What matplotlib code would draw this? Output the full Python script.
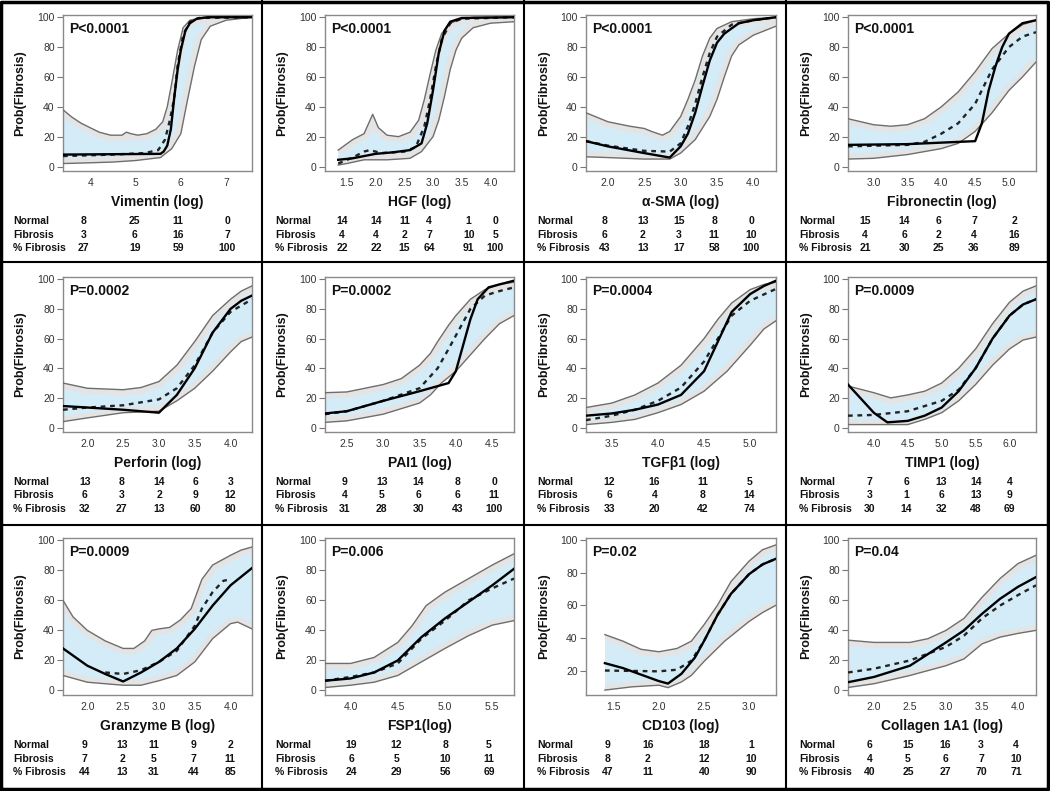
import matplotlib
matplotlib.use("Agg")
import matplotlib.pyplot as plt
from matplotlib.patches import Polygon
from matplotlib.lines import Line2D
import matplotlib.transforms as mtransforms

plt.rcParams["font.family"] = ["Liberation Sans", "DejaVu Sans"]

# ---- data: (x log value, Prob(Fibrosis) %) ----
vim_hi = [(3.4, 38), (3.6, 33), (3.8, 29), (4.0, 26), (4.2, 23), (4.45, 21), (4.7, 21), (4.8, 23), (4.9, 22),
          (5.05, 21), (5.25, 22), (5.45, 25), (5.6, 30), (5.7, 40), (5.8, 56), (5.93, 78), (6.05, 93),
          (6.2, 98), (6.5, 100), (7.57, 100)]
vim_lo = [(3.4, 2), (4.0, 2.5), (4.5, 3), (5.0, 4), (5.55, 6), (5.8, 12), (6.0, 22), (6.15, 45), (6.3, 67),
          (6.45, 85), (6.65, 94), (7.0, 98), (7.57, 100)]
vim_fit = [(3.4, 8), (5.55, 8.5), (5.62, 10), (5.7, 14), (5.78, 25), (5.85, 45), (5.93, 65), (6.0, 78),
           (6.1, 91), (6.2, 96), (6.35, 99), (6.6, 100), (7.57, 100)]
vim_obs = [(3.4, 7), (4.5, 8), (5.2, 9), (5.5, 11), (5.65, 18), (5.75, 30), (5.85, 45), (5.93, 68),
           (6.05, 88), (6.2, 97), (6.4, 99.5), (7.57, 100)]

hgf_hi = [(1.35, 11), (1.6, 18), (1.8, 22), (1.95, 35), (2.05, 26), (2.2, 21), (2.4, 20), (2.6, 23), (2.75, 31),
          (2.85, 45), (2.95, 62), (3.05, 78), (3.15, 89), (3.3, 96), (3.5, 99), (3.7, 100), (4.41, 100)]
hgf_lo = [(1.35, 1), (1.5, 2), (1.8, 4.5), (2.2, 4.5), (2.6, 5.5), (2.8, 10), (3.0, 20), (3.1, 31), (3.2, 47),
          (3.3, 65), (3.4, 78), (3.5, 86), (3.7, 93), (4.0, 96), (4.41, 97)]
hgf_fit = [(1.35, 4.5), (1.6, 5.5), (2.0, 8.5), (2.3, 9.5), (2.6, 11), (2.8, 15.5), (2.9, 29), (3.0, 51),
           (3.1, 76), (3.2, 91), (3.3, 97), (3.5, 99.5), (4.41, 100)]
hgf_obs = [(1.35, 2), (1.6, 6), (1.8, 10), (1.9, 11), (2.1, 9), (2.5, 10), (2.7, 13), (2.85, 27), (2.95, 45),
           (3.05, 67), (3.15, 85), (3.3, 96), (3.5, 99), (4.41, 100)]

sma_hi = [(1.7, 36), (2.0, 30), (2.3, 27), (2.5, 25.5), (2.6, 23.5), (2.75, 21), (2.85, 23.5), (3.0, 33.5),
          (3.1, 45), (3.2, 58), (3.3, 74), (3.4, 86), (3.5, 92.5), (3.7, 97), (4.0, 99), (4.31, 100)]
sma_lo = [(1.7, 6.5), (2.0, 6), (2.5, 5), (2.85, 5), (3.0, 9), (3.2, 18), (3.4, 33.5), (3.5, 45), (3.6, 60),
          (3.7, 74), (3.8, 81.5), (4.0, 88), (4.31, 94)]
sma_fit = [(1.7, 17), (2.0, 13.5), (2.5, 9), (2.85, 6), (3.0, 13.5), (3.1, 22), (3.2, 36), (3.3, 54),
           (3.4, 71), (3.5, 83), (3.6, 89), (3.8, 96), (4.0, 98), (4.31, 100)]
sma_obs = [(1.7, 17), (2.0, 14), (2.5, 10.5), (2.85, 10), (3.0, 15.5), (3.1, 27), (3.2, 42), (3.3, 60),
           (3.4, 76), (3.5, 87), (3.7, 95), (4.0, 98), (4.31, 100)]

fn_hi = [(2.62, 32), (3.0, 28), (3.25, 27), (3.5, 28), (3.75, 32), (4.0, 40), (4.25, 50), (4.5, 63.5),
         (4.75, 79), (5.0, 89), (5.2, 95), (5.4, 98)]
fn_lo = [(2.62, 5), (3.0, 5.5), (3.5, 8), (4.0, 12), (4.25, 15.5), (4.5, 23.5), (4.75, 36), (5.0, 51),
         (5.2, 60), (5.4, 70)]
fn_fit = [(2.62, 14.5), (3.5, 15), (4.5, 17), (4.6, 29), (4.7, 51), (4.8, 67), (4.9, 80), (5.0, 89),
          (5.2, 96), (5.4, 98)]
fn_obs = [(2.62, 13.5), (3.5, 14.5), (3.75, 16.5), (4.0, 22), (4.25, 29), (4.5, 42), (4.75, 65), (5.0, 80),
          (5.2, 87), (5.4, 90)]

prf_hi = [(1.66, 30), (2.0, 26.5), (2.5, 25.5), (2.75, 27), (3.0, 31), (3.25, 42), (3.5, 58), (3.75, 75.5),
          (4.0, 86.5), (4.15, 92), (4.3, 95.5)]
prf_lo = [(1.66, 4), (2.0, 6.5), (2.5, 10), (3.0, 11), (3.25, 18), (3.5, 26.5), (3.75, 38), (4.0, 51),
          (4.15, 58), (4.3, 61)]
prf_fit = [(1.66, 14.5), (2.0, 13.5), (2.5, 12), (3.0, 10), (3.25, 22), (3.5, 40), (3.75, 64), (4.0, 80),
           (4.15, 85.5), (4.3, 89)]
prf_obs = [(1.66, 12), (2.0, 13.5), (2.5, 15), (3.0, 19), (3.25, 26.5), (3.5, 42), (3.75, 64), (4.0, 78),
           (4.3, 86.5)]

pai_hi = [(2.2, 23.5), (2.5, 24), (3.0, 29), (3.25, 33), (3.5, 42), (3.65, 50), (3.75, 58), (3.9, 69),
          (4.0, 75.5), (4.2, 86.5), (4.4, 93), (4.6, 96.5), (4.8, 98)]
pai_lo = [(2.2, 3.5), (2.5, 4.5), (3.0, 9), (3.5, 16.5), (3.65, 22), (3.8, 30), (4.0, 38), (4.2, 49),
          (4.4, 60), (4.6, 70), (4.8, 75.5)]
pai_fit = [(2.2, 9.5), (2.5, 11), (3.0, 18), (3.5, 24.5), (3.9, 30), (4.0, 38), (4.1, 55.5), (4.2, 73),
           (4.3, 86.5), (4.45, 94.5), (4.6, 96.5), (4.8, 99)]
pai_obs = [(2.2, 9), (2.5, 11), (3.0, 18), (3.5, 26.5), (3.75, 40), (3.9, 53), (4.0, 62), (4.2, 80),
           (4.4, 89), (4.6, 92), (4.8, 94.5)]

tgf_hi = [(3.22, 13.5), (3.5, 16.5), (3.75, 22), (4.0, 30), (4.25, 42), (4.5, 60), (4.65, 73), (4.8, 84),
          (5.0, 93), (5.15, 96.5), (5.28, 98)]
tgf_lo = [(3.22, 2), (3.5, 3.5), (3.75, 5.5), (4.0, 10), (4.25, 15.5), (4.5, 24.5), (4.75, 38), (5.0, 55.5),
          (5.15, 66.5), (5.28, 72)]
tgf_fit = [(3.22, 8), (3.5, 9.5), (3.75, 12), (4.0, 15.5), (4.25, 22), (4.5, 38), (4.65, 58), (4.8, 78),
           (5.0, 90), (5.15, 95.5), (5.28, 99)]
tgf_obs = [(3.22, 5), (3.5, 8), (3.75, 12), (4.0, 18), (4.25, 27), (4.5, 44.5), (4.65, 60), (4.8, 75.5),
           (5.0, 85.5), (5.28, 93.5)]

timp_hi = [(3.62, 28), (4.0, 23.5), (4.25, 20), (4.5, 22), (4.75, 24.5), (5.0, 30), (5.25, 40), (5.5, 53),
           (5.75, 70), (6.0, 84.5), (6.2, 92), (6.39, 95.5)]
timp_lo = [(3.62, 2), (4.5, 2), (4.75, 5.5), (5.0, 10), (5.25, 18), (5.5, 29), (5.75, 42), (6.0, 53),
           (6.2, 59), (6.39, 61)]
timp_fit = [(3.62, 29), (3.8, 20), (4.0, 10), (4.2, 3.5), (4.5, 4.5), (4.75, 8), (5.0, 13.5), (5.25, 24.5),
            (5.5, 40), (5.75, 60), (6.0, 75.5), (6.2, 83), (6.39, 86.5)]
timp_obs = [(3.62, 8), (4.0, 8.5), (4.5, 11), (5.0, 18), (5.25, 25.5), (5.5, 40), (5.75, 60), (6.0, 75.5),
            (6.2, 83), (6.39, 86.5)]

gzb_hi = [(1.66, 60), (1.8, 49), (2.0, 40), (2.25, 33), (2.5, 28), (2.65, 28), (2.8, 33), (2.9, 40),
          (3.0, 41), (3.15, 42), (3.3, 47), (3.45, 54.5), (3.6, 74), (3.75, 83.5), (4.0, 90), (4.15, 93.5),
          (4.3, 95.5)]
gzb_lo = [(1.66, 10), (2.0, 5.5), (2.5, 3.5), (2.75, 3.5), (3.0, 6.5), (3.25, 10), (3.5, 19), (3.75, 34.5),
          (4.0, 44.5), (4.1, 45.5), (4.3, 41)]
gzb_fit = [(1.66, 28), (2.0, 16.5), (2.25, 11), (2.5, 6), (2.75, 12), (3.0, 19), (3.25, 28), (3.5, 41),
           (3.75, 56.5), (4.0, 70), (4.3, 81.5)]
gzb_obs = [(2.25, 12), (2.5, 11), (2.75, 13.5), (3.0, 19), (3.25, 26.5), (3.5, 43), (3.6, 54.5),
           (3.75, 65.5), (3.9, 73), (4.0, 74)]

fsp_hi = [(3.73, 18), (4.0, 18), (4.25, 22), (4.5, 32), (4.65, 43), (4.8, 56.5), (5.0, 65.5), (5.25, 74.5),
          (5.5, 83.5), (5.73, 91)]
fsp_lo = [(3.73, 2), (4.0, 3.5), (4.25, 5.5), (4.5, 10), (4.75, 19), (5.0, 28), (5.25, 36.5), (5.5, 43.5),
          (5.73, 46.5)]
fsp_fit = [(3.73, 6.5), (4.0, 8), (4.25, 12), (4.5, 20), (4.75, 35.5), (5.0, 48), (5.25, 59), (5.5, 70),
           (5.73, 81)]
fsp_obs = [(3.73, 6.5), (4.0, 9), (4.25, 12), (4.5, 18), (4.75, 34.5), (5.0, 46.5), (5.25, 60), (5.5, 68),
           (5.73, 74.5)]

cd_hi = [(1.4, 42), (1.6, 38), (1.8, 33), (2.0, 31.5), (2.2, 33.5), (2.36, 38), (2.5, 48), (2.65, 60),
         (2.8, 74.5), (3.0, 87), (3.15, 94), (3.3, 97)]
cd_lo = [(1.4, 8), (1.7, 10), (2.0, 11), (2.1, 9.5), (2.25, 13), (2.36, 17), (2.5, 25.5), (2.73, 38),
         (3.0, 50), (3.15, 55.5), (3.3, 60)]
cd_fit = [(1.4, 24.5), (1.6, 21.5), (1.8, 17.5), (2.0, 13.5), (2.1, 12), (2.25, 18), (2.4, 28), (2.5, 38),
          (2.65, 54), (2.8, 67), (3.0, 79), (3.15, 85), (3.3, 88.5)]
cd_obs = [(1.4, 20), (2.0, 19.5), (2.2, 20.5), (2.36, 26), (2.5, 38), (2.65, 54), (2.8, 67), (3.0, 79),
          (3.15, 85), (3.3, 88.5)]

col_hi = [(1.64, 33.5), (2.0, 32), (2.5, 32), (2.75, 34.5), (3.0, 40), (3.25, 48), (3.5, 62), (3.75, 74.5),
          (4.0, 84.5), (4.25, 90)]
col_lo = [(1.64, 2), (2.0, 4.5), (2.5, 10), (3.0, 16.5), (3.25, 21), (3.5, 31), (3.75, 35.5), (4.0, 38),
          (4.25, 40)]
col_fit = [(1.64, 5.5), (2.0, 9), (2.5, 16.5), (3.0, 32), (3.25, 40), (3.5, 51), (3.75, 61), (4.0, 69),
           (4.25, 75.5)]
col_obs = [(1.64, 12), (2.0, 14.5), (2.5, 20), (3.0, 29), (3.25, 36.5), (3.5, 48), (3.75, 56.5), (4.0, 63.5),
           (4.25, 70)]

markers = ["Vimentin (log)", "HGF (log)", "\u03b1-SMA (log)", "Fibronectin (log)",
           "Perforin (log)", "PAI1 (log)", "TGF\u03b21 (log)", "TIMP1 (log)",
           "Granzyme B (log)", "FSP1(log)", "CD103 (log)", "Collagen 1A1 (log)"]
p_values = ["P<0.0001", "P<0.0001", "P<0.0001", "P<0.0001",
            "P=0.0002", "P=0.0002", "P=0.0004", "P=0.0009",
            "P=0.0009", "P=0.006", "P=0.02", "P=0.04"]
x_ticks = [[4, 5, 6, 7], [1.5, 2.0, 2.5, 3.0, 3.5, 4.0], [2.0, 2.5, 3.0, 3.5, 4.0], [3.0, 3.5, 4.0, 4.5, 5.0],
           [2.0, 2.5, 3.0, 3.5, 4.0], [2.5, 3.0, 3.5, 4.0, 4.5], [3.5, 4.0, 4.5, 5.0], [4.0, 4.5, 5.0, 5.5, 6.0],
           [2.0, 2.5, 3.0, 3.5, 4.0], [4.0, 4.5, 5.0, 5.5], [1.5, 2.0, 2.5, 3.0], [2.0, 2.5, 3.0, 3.5, 4.0]]

normal = [[8, 25, 11, 0], [14, 14, 11, 4, 1, 0], [8, 13, 15, 8, 0], [15, 14, 6, 7, 2],
          [13, 8, 14, 6, 3], [9, 13, 14, 8, 0], [12, 16, 11, 5], [7, 6, 13, 14, 4],
          [9, 13, 11, 9, 2], [19, 12, 8, 5], [9, 16, 18, 1], [6, 15, 16, 3, 4]]
fibrosis = [[3, 6, 16, 7], [4, 4, 2, 7, 10, 5], [6, 2, 3, 11, 10], [4, 6, 2, 4, 16],
            [6, 3, 2, 9, 12], [4, 5, 6, 6, 11], [6, 4, 8, 14], [3, 1, 6, 13, 9],
            [7, 2, 5, 7, 11], [6, 5, 10, 11], [8, 2, 12, 10], [4, 5, 6, 7, 10]]
pct_fibrosis = [[27, 19, 59, 100], [22, 22, 15, 64, 91, 100], [43, 13, 17, 58, 100], [21, 30, 25, 36, 89],
                [32, 27, 13, 60, 80], [31, 28, 30, 43, 100], [33, 20, 42, 74], [30, 14, 32, 48, 69],
                [44, 13, 31, 44, 85], [24, 29, 56, 69], [47, 11, 40, 90], [40, 25, 27, 70, 71]]

curves = [(vim_hi, vim_lo, vim_fit, vim_obs), (hgf_hi, hgf_lo, hgf_fit, hgf_obs),
          (sma_hi, sma_lo, sma_fit, sma_obs), (fn_hi, fn_lo, fn_fit, fn_obs),
          (prf_hi, prf_lo, prf_fit, prf_obs), (pai_hi, pai_lo, pai_fit, pai_obs),
          (tgf_hi, tgf_lo, tgf_fit, tgf_obs), (timp_hi, timp_lo, timp_fit, timp_obs),
          (gzb_hi, gzb_lo, gzb_fit, gzb_obs), (fsp_hi, fsp_lo, fsp_fit, fsp_obs),
          (cd_hi, cd_lo, cd_fit, cd_obs), (col_hi, col_lo, col_fit, col_obs)]

# ---- layout (pixels) ----
W, H = 1050, 791
x_lims = [(3.4, 7.57), (1.12, 4.41), (1.70, 4.31), (2.62, 5.40), (1.66, 4.30), (2.20, 4.80),
          (3.22, 5.28), (3.62, 6.39), (1.66, 4.30), (3.73, 5.73), (1.19, 3.30), (1.64, 4.25)]
table_cols = [[0.11, 0.38, 0.61, 0.87], [0.09, 0.27, 0.42, 0.55, 0.76, 0.90], [0.10, 0.30, 0.49, 0.675, 0.87],
              [0.09, 0.30, 0.48, 0.67, 0.885], [0.115, 0.31, 0.51, 0.70, 0.885], [0.105, 0.30, 0.495, 0.70, 0.895],
              [0.123, 0.36, 0.614, 0.86], [0.115, 0.31, 0.496, 0.68, 0.858], [0.115, 0.315, 0.478, 0.69, 0.885],
              [0.14, 0.377, 0.637, 0.868], [0.114, 0.325, 0.623, 0.868], [0.115, 0.319, 0.519, 0.708, 0.894]]
ax_cols = [(63, 252), (325, 514), (586, 776), (848, 1036)]
ax_rows = [(15, 171), (277, 432), (538, 695)]
cell_x = [0, 262, 524, 786]

fig = plt.figure(figsize=(W / 100, H / 100), dpi=100)
fig.patch.set_facecolor("white")

BAND_EDGE = "#6e6e6e"
txt = "#111111"

for i in range(12):
    r, c = divmod(i, 4)
    x0, x1 = ax_cols[c]
    y0, y1 = ax_rows[r]
    ax = fig.add_axes([x0 / W, 1 - y1 / H, (x1 - x0) / W, (y1 - y0) / H])
    hi, lo, fit, obs = curves[i]

    band = Polygon(hi + lo[::-1], closed=True, facecolor="#d4ecf8", edgecolor="none", zorder=1)
    ax.add_patch(band)
    for edge in (hi, lo):
        ex, ey = zip(*edge)
        halo, = ax.plot(ex, ey, color="#e4e4e4", lw=8, zorder=2, solid_capstyle="butt")
        halo.set_clip_path(band)
        ax.plot(ex, ey, color=BAND_EDGE, lw=1.0, zorder=3)
    ox, oy = zip(*obs)
    ax.plot(ox, oy, color="#222222", lw=1.7, ls=(0, (2, 2)), zorder=4)
    fx, fy = zip(*fit)
    ax.plot(fx, fy, color="black", lw=1.7, zorder=5)

    ax.set_xlim(x_lims[i])
    if i == 10:
        ax.set_ylim(5, 101.2)
        ax.set_yticks([20, 40, 60, 80, 100])
    else:
        ax.set_ylim(-3, 101.5)
        ax.set_yticks([0, 20, 40, 60, 80, 100])
    ax.set_xticks(x_ticks[i])
    if i == 0:
        ax.set_xticklabels([str(v) for v in x_ticks[i]])
    else:
        ax.set_xticklabels(["%.1f" % v for v in x_ticks[i]])
    for s in ax.spines.values():
        s.set_color("#8a8a8a")
        s.set_linewidth(1.0)
    ax.tick_params(axis="both", direction="out", length=4, width=0.8, color="#777777",
                   labelsize=7.5, labelcolor="#333333", pad=2)
    ax.tick_params(axis="x", length=0, pad=5)

    ax.text(0.03, 0.955, p_values[i], transform=ax.transAxes, ha="left", va="top",
            fontsize=10, fontweight="bold", color=txt)

    # y label and x label
    fig.text((cell_x[c] + 20) / W, 1 - (y0 + y1) / 2 / H, "Prob(Fibrosis)", rotation=90,
             ha="center", va="center", fontsize=9, fontweight="bold", color=txt)
    fig.text((x0 + x1) / 2 / W, 1 - (y1 + 31) / H, markers[i], ha="center", va="center",
             fontsize=10, fontweight="bold", color=txt)

    # count table beneath the panel
    trans = mtransforms.blended_transform_factory(ax.transAxes, fig.transFigure)
    for k, (lab, vals) in enumerate([("Normal", normal[i]), ("Fibrosis", fibrosis[i]),
                                     ("% Fibrosis", pct_fibrosis[i])]):
        ypos = 1 - (y1 + 50 + k * 13.5) / H
        fig.text((cell_x[c] + 13) / W, ypos, lab, ha="left", va="center",
                 fontsize=7.5, fontweight="bold", color=txt)
        for fx_, v in zip(table_cols[i], vals):
            ax.text(fx_, ypos, str(v), transform=trans, ha="center", va="center",
                    fontsize=7.5, fontweight="bold", color=txt)

# cell frames
for xv in [262, 524, 786]:
    fig.add_artist(Line2D([xv / W, xv / W], [0, 1], color="black", lw=1.5))
for yv in [262, 525]:
    fig.add_artist(Line2D([0, 1], [1 - yv / H, 1 - yv / H], color="black", lw=1.5))
fig.add_artist(Line2D([0.001, 0.001, 0.998, 0.998, 0.001], [0.002, 0.998, 0.998, 0.002, 0.002],
                      color="black", lw=2.5))

fig.savefig("out.png", dpi=100, facecolor="white")
